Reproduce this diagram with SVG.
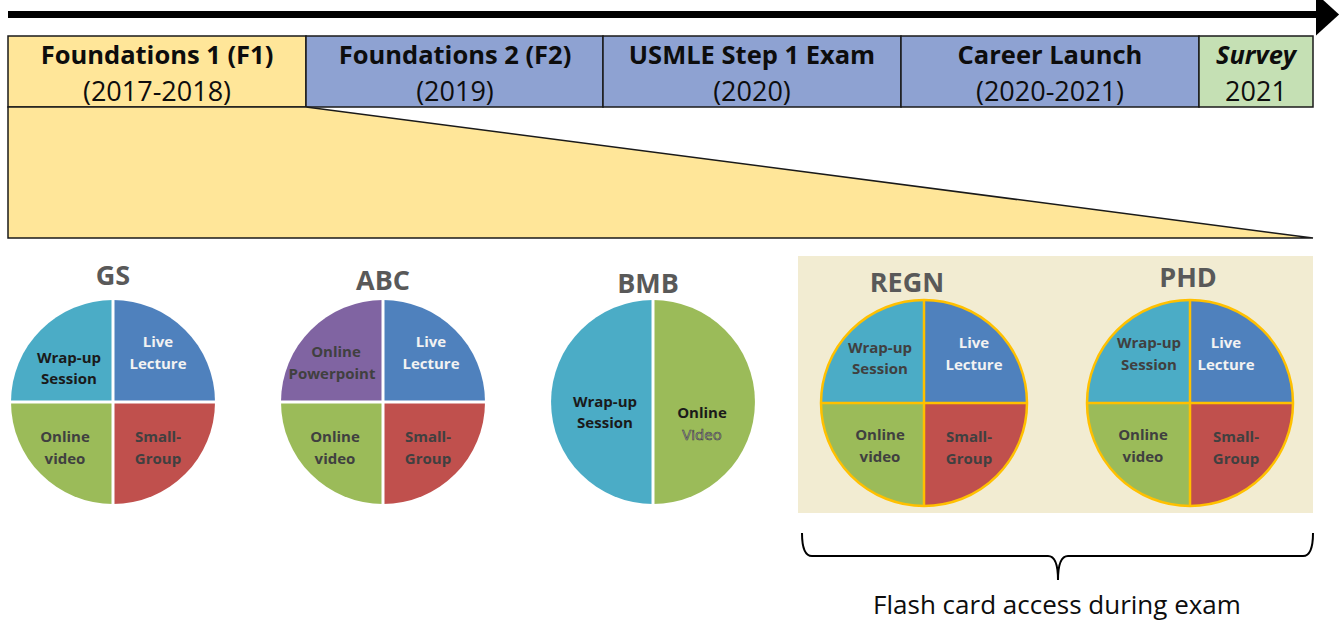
<svg xmlns="http://www.w3.org/2000/svg" width="1340" height="623" viewBox="0 0 1340 623">
<style>
.hb{stroke:#1a1a1a;stroke-width:1.5}
.t1{font-family:"Open Sans","Liberation Sans",sans-serif;font-weight:bold;font-size:25.5px;fill:#0d0d0d;text-anchor:middle}
.t2{font-family:"Open Sans","Liberation Sans",sans-serif;font-size:27px;fill:#0d0d0d;text-anchor:middle}
.pt{font-family:"Open Sans","Liberation Sans",sans-serif;font-weight:bold;font-size:27px;fill:#595959;text-anchor:middle}
.lb{font-family:"Open Sans","Liberation Sans",sans-serif;font-weight:bold;font-size:15px;fill:#404040;text-anchor:middle}
.lk{fill:#1a1a1a}
.lw{fill:#f2f2f2}
.sep{stroke:#fff;stroke-width:3}
.org{stroke:#ffc000;stroke-width:2.5}
.teal{fill:#4bacc6}.blue{fill:#4f81bd}.green{fill:#9bbb59}.red{fill:#c0504d}.purple{fill:#8064a2}
</style>
<defs>
<marker id="ah" markerWidth="6" markerHeight="6" refX="0" refY="3" orient="auto" markerUnits="strokeWidth">
<path d="M0,0 L3.3,3 L0,6 z" fill="#000"/>
</marker>
</defs>
<g id="connectors">
<line x1="8" y1="14.5" x2="1316" y2="14.5" stroke="#000" stroke-width="7" marker-end="url(#ah)"/>
<path d="M802,533 Q802,556 812,556 L1048,556 Q1058,556 1058,580 Q1058,556 1068,556 L1303,556 Q1313,556 1313,533" fill="none" stroke="#000" stroke-width="2"/>
</g>
<g id="header">
<rect class="hb" x="8" y="36" width="298" height="71" fill="#ffe699"/>
<rect class="hb" x="306" y="36" width="297" height="71" fill="#8ea2d2"/>
<rect class="hb" x="603" y="36" width="298" height="71" fill="#8ea2d2"/>
<rect class="hb" x="901" y="36" width="298" height="71" fill="#8ea2d2"/>
<rect class="hb" x="1199" y="36" width="114" height="71" fill="#c5e0b4"/>
<text class="t1" x="157" y="64">Foundations 1 (F1)</text>
<text class="t2" x="157" y="101">(2017-2018)</text>
<text class="t1" x="455" y="64">Foundations 2 (F2)</text>
<text class="t2" x="455" y="101">(2019)</text>
<text class="t1" x="752" y="64">USMLE Step 1 Exam</text>
<text class="t2" x="752" y="101">(2020)</text>
<text class="t1" x="1050" y="64">Career Launch</text>
<text class="t2" x="1050" y="101">(2020-2021)</text>
<text class="t1" x="1256" y="64" font-style="italic">Survey</text>
<text class="t2" x="1256" y="101">2021</text>
</g>
<g id="zoom-wedge">
<polygon points="8,107 306,107 1313,238 8,238" fill="#ffe699" stroke="#1a1a1a" stroke-width="1.5"/>
</g>
<rect id="flash-panel" x="798" y="256" width="515" height="257" fill="#f2ecd2"/>
<g id="GS">
<text class="pt" x="113" y="285">GS</text>
<path class="teal" d="M113,402 L11,402 A102,102 0 0 1 113,300 z"/>
<path class="blue" d="M113,402 L113,300 A102,102 0 0 1 215,402 z"/>
<path class="red" d="M113,402 L215,402 A102,102 0 0 1 113,504 z"/>
<path class="green" d="M113,402 L113,504 A102,102 0 0 1 11,402 z"/>
<line class="sep" x1="113" y1="298" x2="113" y2="506"/>
<line class="sep" x1="9" y1="402" x2="217" y2="402"/>
<text class="lb lk" x="69" y="363">Wrap-up</text>
<text class="lb lk" x="69" y="384">Session</text>
<text class="lb lw" x="158" y="347">Live</text>
<text class="lb lw" x="158" y="369">Lecture</text>
<text class="lb" x="65" y="442">Online</text>
<text class="lb" x="65" y="464">video</text>
<text class="lb" x="158" y="442">Small-</text>
<text class="lb" x="158" y="464">Group</text>
</g>
<g id="ABC">
<text class="pt" x="383" y="290">ABC</text>
<path class="purple" d="M383,402 L281,402 A102,102 0 0 1 383,300 z"/>
<path class="blue" d="M383,402 L383,300 A102,102 0 0 1 485,402 z"/>
<path class="red" d="M383,402 L485,402 A102,102 0 0 1 383,504 z"/>
<path class="green" d="M383,402 L383,504 A102,102 0 0 1 281,402 z"/>
<line class="sep" x1="383" y1="298" x2="383" y2="506"/>
<line class="sep" x1="279" y1="402" x2="487" y2="402"/>
<text class="lb" x="336" y="357">Online</text>
<text class="lb" x="332" y="379">Powerpoint</text>
<text class="lb lw" x="431" y="347">Live</text>
<text class="lb lw" x="431" y="369">Lecture</text>
<text class="lb" x="335" y="442">Online</text>
<text class="lb" x="335" y="464">video</text>
<text class="lb" x="428" y="442">Small-</text>
<text class="lb" x="428" y="464">Group</text>
</g>
<g id="BMB">
<text class="pt" x="648" y="293">BMB</text>
<path class="teal" d="M653,300 A102,102 0 0 0 653,504 z"/>
<path class="green" d="M653,300 A102,102 0 0 1 653,504 z"/>
<line class="sep" x1="653" y1="298" x2="653" y2="506"/>
<text class="lb lk" x="605" y="407">Wrap-up</text>
<text class="lb lk" x="605" y="428">Session</text>
<text class="lb lk" x="702" y="418">Online</text>
<text x="702" y="440" font-family="'Open Sans','Liberation Sans',sans-serif" font-size="15" text-anchor="middle" fill="#a8a8a8" stroke="#404040" stroke-width="0.6">Video</text>
</g>
<g id="REGN">
<text class="pt" x="907" y="292">REGN</text>
<path class="teal" d="M924,403 L821,403 A103,103 0 0 1 924,300 z"/>
<path class="blue" d="M924,403 L924,300 A103,103 0 0 1 1027,403 z"/>
<path class="red" d="M924,403 L1027,403 A103,103 0 0 1 924,506 z"/>
<path class="green" d="M924,403 L924,506 A103,103 0 0 1 821,403 z"/>
<circle class="org" cx="924" cy="403" r="103" fill="none"/>
<line class="org" x1="924" y1="300" x2="924" y2="506"/>
<line class="org" x1="821" y1="403" x2="1027" y2="403"/>
<text class="lb" x="880" y="353">Wrap-up</text>
<text class="lb" x="880" y="374">Session</text>
<text class="lb lw" x="974" y="348">Live</text>
<text class="lb lw" x="974" y="370">Lecture</text>
<text class="lb" x="880" y="440">Online</text>
<text class="lb" x="880" y="462">video</text>
<text class="lb" x="969" y="442">Small-</text>
<text class="lb" x="969" y="464">Group</text>
</g>
<g id="PHD">
<text class="pt" x="1188" y="287">PHD</text>
<path class="teal" d="M1190,403 L1087,403 A103,103 0 0 1 1190,300 z"/>
<path class="blue" d="M1190,403 L1190,300 A103,103 0 0 1 1293,403 z"/>
<path class="red" d="M1190,403 L1293,403 A103,103 0 0 1 1190,506 z"/>
<path class="green" d="M1190,403 L1190,506 A103,103 0 0 1 1087,403 z"/>
<circle class="org" cx="1190" cy="403" r="103" fill="none"/>
<line class="org" x1="1190" y1="300" x2="1190" y2="506"/>
<line class="org" x1="1087" y1="403" x2="1293" y2="403"/>
<text class="lb" x="1149" y="348">Wrap-up</text>
<text class="lb" x="1149" y="370">Session</text>
<text class="lb lw" x="1226" y="348">Live</text>
<text class="lb lw" x="1226" y="370">Lecture</text>
<text class="lb" x="1143" y="440">Online</text>
<text class="lb" x="1143" y="462">video</text>
<text class="lb" x="1236" y="442">Small-</text>
<text class="lb" x="1236" y="464">Group</text>
</g>
<text id="flash-label" x="1057" y="614" font-family="'Open Sans','Liberation Sans',sans-serif" font-size="26" fill="#0d0d0d" text-anchor="middle">Flash card access during exam</text>
</svg>
